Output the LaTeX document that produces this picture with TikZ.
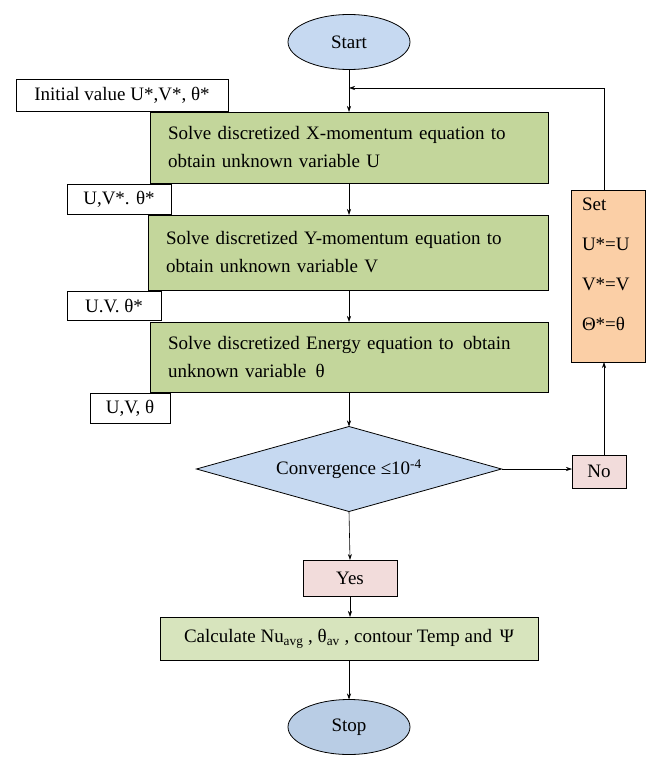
\documentclass[tikz,border=0pt]{standalone}
\usepackage{fontspec}
\setmainfont{Liberation Serif}
\usetikzlibrary{shapes.geometric,arrows.meta}
\definecolor{ellblue}{HTML}{C6D9F1}
\definecolor{stopblue}{HTML}{B9CDE5}
\definecolor{boxgreen}{HTML}{C3D69B}
\definecolor{calcgreen}{HTML}{D7E4BD}
\definecolor{pinkbox}{HTML}{F2DCDB}
\definecolor{peach}{HTML}{FBCFA6}
\begin{document}
\begin{tikzpicture}[x=1pt,y=-1pt,
  font=\fontsize{19}{28}\selectfont,
  every node/.style={inner sep=0pt, outer sep=0pt},
  box/.style={draw, line width=0.8pt, anchor=north west, rectangle},
  stepbox/.style={box, fill=boxgreen, inner xsep=18pt, align=left},
  lbl/.style={box, fill=white},
  term/.style={ellipse, draw, line width=0.8pt, minimum width=122pt, minimum height=55pt},
  arr/.style={-{Stealth[length=6pt,width=4pt]}, line width=0.6pt}]
\useasboundingbox (0,0) rectangle (653,762);

\node[term, fill=ellblue] (start) at (349,42) {Start};

\node[lbl, minimum width=212pt, minimum height=32pt] (init) at (16,79) {Initial value U*,V*, θ*};

\node[stepbox, text width=362pt, minimum height=71pt] (xm) at (150,112)
  {Solve discretized X-momentum equation to\\obtain unknown variable U};

\node[lbl, minimum width=104pt, minimum height=30pt] (l1) at (67,184) {U,V*. θ*};

\node[stepbox, text width=364pt, minimum height=75pt] (ym) at (148,215)
  {Solve discretized Y-momentum equation to\\obtain unknown variable V};

\node[lbl, minimum width=94pt, minimum height=29pt] (l2) at (67,291) {U.V. θ*};

\node[stepbox, text width=362pt, minimum height=70pt] (en) at (150,322)
  {Solve discretized Energy equation to \,obtain\\unknown variable \,θ};

\node[lbl, minimum width=80pt, minimum height=30pt] (l3) at (90,393) {U,V, θ};

\node[diamond, draw, line width=0.8pt, fill=ellblue, minimum width=305pt, minimum height=85pt, aspect=3.6] (conv) at (349,469)
  {\raisebox{2pt}{Convergence ≤10\textsuperscript{-4}}};

\node[box, fill=pinkbox, minimum width=54pt, minimum height=33pt] (no) at (572,455) {No};

\node[box, fill=peach, minimum width=74pt, minimum height=172pt] (set) at (571,190) {};
\node[anchor=north west, align=left, font=\fontsize{19}{40}\selectfont] (settxt) at (582,198)
  {Set\\U*=U\\V*=V\\Θ*=θ};

\node[box, fill=pinkbox, minimum width=94pt, minimum height=36pt] (yes) at (303,560) {Yes};

\node[box, fill=calcgreen, minimum width=378pt, minimum height=43pt] (calc) at (160,617)
  {Calculate Nu\textsubscript{avg} , θ\textsubscript{av} , contour Temp and \,Ψ};

\node[term, fill=stopblue] (stop) at (349,727) {Stop};

\coordinate (fb) at (349,88);

\draw[arr] (start.south) -- (xm.north -| start);
\draw[arr] (xm.south -| start) -- (ym.north -| start);
\draw[arr] (ym.south -| start) -- (en.north -| start);
\draw[arr] (en.south -| start) -- (conv.north);
\draw[arr] (conv.east) -- (no.west |- conv.east);
\draw[arr] (no.north -| 604,0) -- (set.south -| 604,0);
\draw[arr] (set.north -| 604,0) |- (fb);
\draw[arr] (conv.south) -- (yes.north);
\draw[arr] (yes.south) -- (calc.north -| yes.south);
\draw[arr] (calc.south -| stop) -- (stop.north);
\end{tikzpicture}
\end{document}
